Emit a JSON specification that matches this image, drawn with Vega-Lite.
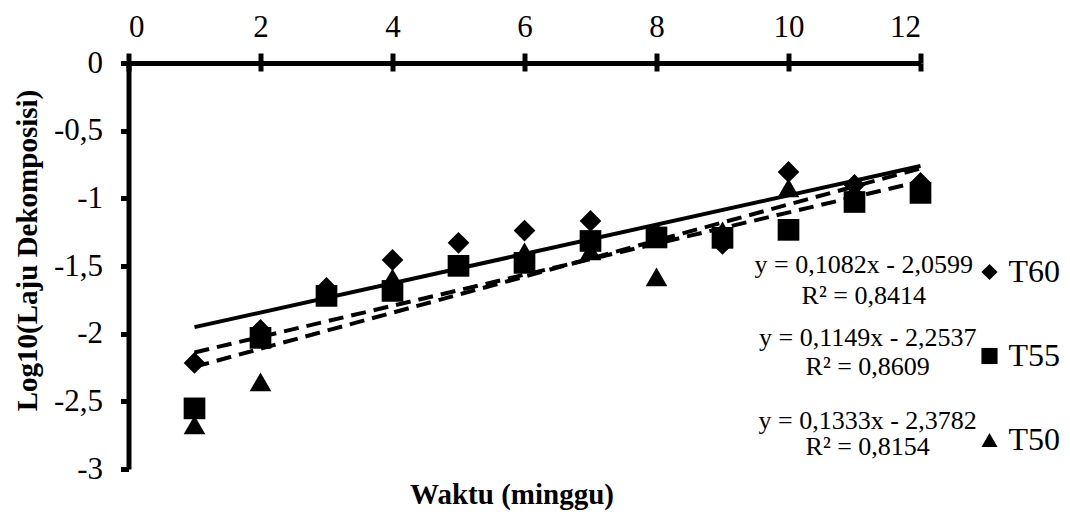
{
  "$schema": "https://vega.github.io/schema/vega-lite/v6.json",
  "width": 792,
  "height": 406,
  "autosize": {"type": "none"},
  "padding": {"left": 128.5, "top": 63, "right": 149.5, "bottom": 43},
  "background": "white",
  "config": {
    "font": "Liberation Serif",
    "view": {"stroke": null},
    "axis": {
      "grid": false,
      "labelFont": "Liberation Serif",
      "labelFontSize": 31,
      "titleFont": "Liberation Serif",
      "labelColor": "black",
      "titleColor": "black",
      "domainColor": "black",
      "tickColor": "black"
    },
    "legend": {"labelFont": "Liberation Serif"}
  },
  "datasets": {
    "points": [
      {"minggu": 1, "log": -2.216, "seri": "T60"},
      {"minggu": 2, "log": -1.972, "seri": "T60"},
      {"minggu": 3, "log": -1.662, "seri": "T60"},
      {"minggu": 4, "log": -1.455, "seri": "T60"},
      {"minggu": 5, "log": -1.329, "seri": "T60"},
      {"minggu": 6, "log": -1.238, "seri": "T60"},
      {"minggu": 7, "log": -1.167, "seri": "T60"},
      {"minggu": 8, "log": -1.265, "seri": "T60"},
      {"minggu": 9, "log": -1.337, "seri": "T60"},
      {"minggu": 10, "log": -0.805, "seri": "T60"},
      {"minggu": 11, "log": -0.901, "seri": "T60"},
      {"minggu": 12, "log": -0.886, "seri": "T60"},
      {"minggu": 1, "log": -2.552, "seri": "T55"},
      {"minggu": 2, "log": -2.031, "seri": "T55"},
      {"minggu": 3, "log": -1.721, "seri": "T55"},
      {"minggu": 4, "log": -1.684, "seri": "T55"},
      {"minggu": 5, "log": -1.499, "seri": "T55"},
      {"minggu": 6, "log": -1.477, "seri": "T55"},
      {"minggu": 7, "log": -1.315, "seri": "T55"},
      {"minggu": 8, "log": -1.289, "seri": "T55"},
      {"minggu": 9, "log": -1.292, "seri": "T55"},
      {"minggu": 10, "log": -1.233, "seri": "T55"},
      {"minggu": 11, "log": -1.027, "seri": "T55"},
      {"minggu": 12, "log": -0.96, "seri": "T55"},
      {"minggu": 1, "log": -2.674, "seri": "T50"},
      {"minggu": 2, "log": -2.356, "seri": "T50"},
      {"minggu": 3, "log": -1.69, "seri": "T50"},
      {"minggu": 4, "log": -1.588, "seri": "T50"},
      {"minggu": 5, "log": -1.49, "seri": "T50"},
      {"minggu": 6, "log": -1.396, "seri": "T50"},
      {"minggu": 7, "log": -1.388, "seri": "T50"},
      {"minggu": 8, "log": -1.58, "seri": "T50"},
      {"minggu": 9, "log": -1.241, "seri": "T50"},
      {"minggu": 10, "log": -0.923, "seri": "T50"},
      {"minggu": 11, "log": -0.94, "seri": "T50"},
      {"minggu": 12, "log": -0.92, "seri": "T50"}
    ],
    "trend": [
      {"minggu": 1, "log": -1.9517, "seri": "T60"},
      {"minggu": 12, "log": -0.7615, "seri": "T60"},
      {"minggu": 1, "log": -2.1388, "seri": "T55"},
      {"minggu": 12, "log": -0.8749, "seri": "T55"},
      {"minggu": 1, "log": -2.2449, "seri": "T50"},
      {"minggu": 12, "log": -0.7786, "seri": "T50"}
    ],
    "eq": [
      {"minggu": 11.14, "log": -1.492, "teks": "y = 0,1082x - 2,0599"},
      {"minggu": 11.14, "log": -1.721, "teks": "R² = 0,8414"},
      {"minggu": 11.2, "log": -2.035, "teks": "y = 0,1149x - 2,2537"},
      {"minggu": 11.2, "log": -2.249, "teks": "R² = 0,8609"},
      {"minggu": 11.2, "log": -2.644, "teks": "y = 0,1333x - 2,3782"},
      {"minggu": 11.2, "log": -2.84, "teks": "R² = 0,8154"}
    ]
  },
  "layer": [
    {
      "data": {"name": "trend"},
      "transform": [{"filter": "datum.seri == 'T60'"}],
      "mark": {"type": "line", "color": "black", "strokeWidth": 4},
      "encoding": {
        "x": {
          "field": "minggu", "type": "quantitative",
          "scale": {"domain": [0, 12], "nice": false, "zero": false},
          "axis": {
            "orient": "bottom", "title": "Waktu (minggu)", "labels": false, "ticks": false, "domain": false,
            "titleFont": "Liberation Serif", "titleFontSize": 29, "titleFontWeight": "bold",
            "titleX": 383, "titleY": 34, "titleBaseline": "alphabetic", "titleAlign": "center"
          }
        },
        "y": {
          "field": "log", "type": "quantitative",
          "scale": {"domain": [-3, 0], "nice": false, "zero": false},
          "axis": null
        }
      }
    },
    {
      "data": {"name": "trend"},
      "transform": [{"filter": "datum.seri != 'T60'"}],
      "mark": {"type": "line", "color": "black", "strokeWidth": 4, "strokeDash": [15, 8]},
      "encoding": {
        "x": {"field": "minggu", "type": "quantitative", "axis": null},
        "y": {"field": "log", "type": "quantitative", "axis": null},
        "detail": {"field": "seri"}
      }
    },
    {
      "data": {"name": "eq"},
      "mark": {"type": "text", "fontSize": 26, "color": "black", "align": "center", "baseline": "middle", "font": "Liberation Serif"},
      "encoding": {
        "x": {
          "field": "minggu", "type": "quantitative",
          "axis": {
            "orient": "top", "labels": false, "domain": false, "ticks": true, "tickSize": -8, "tickWidth": 5,
            "values": [0, 2, 4, 6, 8, 10, 12], "title": null
          }
        },
        "y": {"field": "log", "type": "quantitative", "axis": null},
        "text": {"field": "teks", "type": "nominal"}
      }
    },
    {
      "data": {"name": "points"},
      "mark": {"type": "point", "filled": true, "color": "black", "opacity": 1, "size": 470},
      "encoding": {
        "x": {
          "field": "minggu", "type": "quantitative",
          "axis": {
            "orient": "top", "title": null, "values": [0, 2, 4, 6, 8, 10, 12],
            "labelFont": "Liberation Serif", "labelFontSize": 31, "labelPadding": 10,
            "tickSize": 10, "tickWidth": 5, "domainWidth": 5
          }
        },
        "y": {
          "field": "log", "type": "quantitative",
          "axis": {
            "orient": "left", "title": "Log10(Laju Dekomposisi)",
            "values": [0, -0.5, -1, -1.5, -2, -2.5, -3],
            "labelExpr": "replace(toString(datum.value), '.', ',')",
            "labelFont": "Liberation Serif", "labelFontSize": 31, "labelPadding": 18,
            "tickSize": 8, "tickWidth": 5, "domainWidth": 5,
            "titleFont": "Liberation Serif", "titleFontSize": 29, "titleFontWeight": "bold",
            "titleX": -92.5, "titleY": 187,
            "titleBaseline": "alphabetic", "titleAngle": -90, "titleAlign": "center"
          }
        },
        "shape": {
          "field": "seri", "type": "nominal",
          "scale": {"domain": ["T60", "T55", "T50"], "range": ["diamond", "square", "triangle-up"]},
          "legend": {
            "orient": "none", "legendX": 845, "legendY": 193, "title": null,
            "labelFontSize": 32, "labelFont": "Liberation Serif", "labelColor": "black",
            "symbolSize": 260, "symbolFillColor": "black", "symbolStrokeWidth": 0,
            "rowPadding": 52, "labelOffset": 3, "padding": 0
          }
        }
      }
    }
  ],
  "resolve": {"axis": {"x": "independent", "y": "independent"}}
}
